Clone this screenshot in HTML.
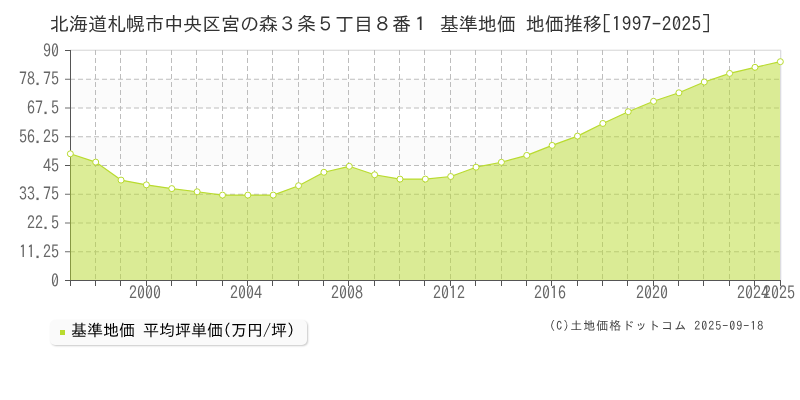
<!DOCTYPE html>
<html lang="ja"><head><meta charset="utf-8"><title>地価推移</title>
<style>
html,body{margin:0;padding:0;background:#fff;}
body{width:800px;height:400px;position:relative;overflow:hidden;font-family:"IPAGothic","Liberation Sans","Noto Sans CJK JP",sans-serif;}
.t{position:absolute;white-space:nowrap;line-height:1;transform:translateZ(0);}
.title{left:50px;top:14px;font-size:19.2px;color:#333;}
.title .f{letter-spacing:-0.2px;}
.title .h{letter-spacing:0.4px;}
.yl{transform:scaleY(1.12) translateZ(0);font-size:16px;color:#666;text-align:right;width:59px;left:0;}
.xl{transform:scaleY(1.12) translateZ(0);font-size:16px;color:#666;top:284px;}
.legend{position:absolute;left:50px;top:320px;width:257px;height:25px;background:#fafafa;border-radius:5px;box-shadow:1px 1px 2px rgba(0,0,0,0.22);}
.sw{position:absolute;left:10px;top:10px;width:5px;height:5px;background:#b9db2f;}
.lt{transform:translateZ(0);position:absolute;left:21px;top:2px;font-size:16px;line-height:1;color:#000;white-space:nowrap;}
.copy{right:35.7px;top:319px;font-size:12px;letter-spacing:1px;color:#444;}
</style></head><body>

<svg width="800" height="400" viewBox="0 0 800 400" style="position:absolute;left:0;top:0">
<rect x="71" y="79.25" width="709" height="28.75" fill="#fbfbfb"/>
<rect x="71" y="136.75" width="709" height="28.75" fill="#fbfbfb"/>
<rect x="71" y="194.25" width="709" height="28.75" fill="#fbfbfb"/>
<rect x="71" y="251.75" width="709" height="28.75" fill="#fbfbfb"/>
<rect x="70" y="49" width="711" height="1" fill="#f3f3f3"/>
<rect x="70" y="50" width="711" height="1" fill="#e0e0e0"/>
<rect x="781" y="50" width="1" height="230" fill="#f4f4f6"/>
<line x1="95.5" y1="50" x2="95.5" y2="280" stroke="#bdbdbd" stroke-width="1" stroke-dasharray="5 3"/>
<line x1="120.5" y1="50" x2="120.5" y2="280" stroke="#bdbdbd" stroke-width="1" stroke-dasharray="5 3"/>
<line x1="146.5" y1="50" x2="146.5" y2="280" stroke="#bdbdbd" stroke-width="1" stroke-dasharray="5 3"/>
<line x1="171.5" y1="50" x2="171.5" y2="280" stroke="#bdbdbd" stroke-width="1" stroke-dasharray="5 3"/>
<line x1="196.5" y1="50" x2="196.5" y2="280" stroke="#bdbdbd" stroke-width="1" stroke-dasharray="5 3"/>
<line x1="222.5" y1="50" x2="222.5" y2="280" stroke="#bdbdbd" stroke-width="1" stroke-dasharray="5 3"/>
<line x1="247.5" y1="50" x2="247.5" y2="280" stroke="#bdbdbd" stroke-width="1" stroke-dasharray="5 3"/>
<line x1="272.5" y1="50" x2="272.5" y2="280" stroke="#bdbdbd" stroke-width="1" stroke-dasharray="5 3"/>
<line x1="298.5" y1="50" x2="298.5" y2="280" stroke="#bdbdbd" stroke-width="1" stroke-dasharray="5 3"/>
<line x1="323.5" y1="50" x2="323.5" y2="280" stroke="#bdbdbd" stroke-width="1" stroke-dasharray="5 3"/>
<line x1="348.5" y1="50" x2="348.5" y2="280" stroke="#bdbdbd" stroke-width="1" stroke-dasharray="5 3"/>
<line x1="374.5" y1="50" x2="374.5" y2="280" stroke="#bdbdbd" stroke-width="1" stroke-dasharray="5 3"/>
<line x1="399.5" y1="50" x2="399.5" y2="280" stroke="#bdbdbd" stroke-width="1" stroke-dasharray="5 3"/>
<line x1="424.5" y1="50" x2="424.5" y2="280" stroke="#bdbdbd" stroke-width="1" stroke-dasharray="5 3"/>
<line x1="450.5" y1="50" x2="450.5" y2="280" stroke="#bdbdbd" stroke-width="1" stroke-dasharray="5 3"/>
<line x1="475.5" y1="50" x2="475.5" y2="280" stroke="#bdbdbd" stroke-width="1" stroke-dasharray="5 3"/>
<line x1="501.5" y1="50" x2="501.5" y2="280" stroke="#bdbdbd" stroke-width="1" stroke-dasharray="5 3"/>
<line x1="526.5" y1="50" x2="526.5" y2="280" stroke="#bdbdbd" stroke-width="1" stroke-dasharray="5 3"/>
<line x1="551.5" y1="50" x2="551.5" y2="280" stroke="#bdbdbd" stroke-width="1" stroke-dasharray="5 3"/>
<line x1="577.5" y1="50" x2="577.5" y2="280" stroke="#bdbdbd" stroke-width="1" stroke-dasharray="5 3"/>
<line x1="602.5" y1="50" x2="602.5" y2="280" stroke="#bdbdbd" stroke-width="1" stroke-dasharray="5 3"/>
<line x1="627.5" y1="50" x2="627.5" y2="280" stroke="#bdbdbd" stroke-width="1" stroke-dasharray="5 3"/>
<line x1="653.5" y1="50" x2="653.5" y2="280" stroke="#bdbdbd" stroke-width="1" stroke-dasharray="5 3"/>
<line x1="678.5" y1="50" x2="678.5" y2="280" stroke="#bdbdbd" stroke-width="1" stroke-dasharray="5 3"/>
<line x1="703.5" y1="50" x2="703.5" y2="280" stroke="#bdbdbd" stroke-width="1" stroke-dasharray="5 3"/>
<line x1="729.5" y1="50" x2="729.5" y2="280" stroke="#bdbdbd" stroke-width="1" stroke-dasharray="5 3"/>
<line x1="754.5" y1="50" x2="754.5" y2="280" stroke="#bdbdbd" stroke-width="1" stroke-dasharray="5 3"/>
<line x1="70" y1="251.75" x2="780" y2="251.75" stroke="#bdbdbd" stroke-width="1" stroke-dasharray="5 3"/>
<line x1="70" y1="223.0" x2="780" y2="223.0" stroke="#bdbdbd" stroke-width="1" stroke-dasharray="5 3"/>
<line x1="70" y1="194.25" x2="780" y2="194.25" stroke="#bdbdbd" stroke-width="1" stroke-dasharray="5 3"/>
<line x1="70" y1="165.5" x2="780" y2="165.5" stroke="#bdbdbd" stroke-width="1" stroke-dasharray="5 3"/>
<line x1="70" y1="136.75" x2="780" y2="136.75" stroke="#bdbdbd" stroke-width="1" stroke-dasharray="5 3"/>
<line x1="70" y1="108.0" x2="780" y2="108.0" stroke="#bdbdbd" stroke-width="1" stroke-dasharray="5 3"/>
<line x1="70" y1="79.25" x2="780" y2="79.25" stroke="#bdbdbd" stroke-width="1" stroke-dasharray="5 3"/>
<rect x="70" y="50" width="1" height="231" fill="#555"/>
<rect x="65" y="280" width="716" height="1" fill="#555"/>
<path d="M70 280 L70 153.80 L70.35 153.80 L95.71 162.10 L121.06 180.10 L146.42 184.85 L171.78 188.60 L197.14 191.75 L222.49 195.10 L247.85 195.10 L273.21 195.10 L298.56 185.70 L323.92 172.25 L349.28 166.30 L374.64 174.75 L399.99 179.10 L425.35 179.10 L450.71 176.50 L476.06 167.20 L501.42 162.25 L526.78 155.40 L552.14 145.40 L577.49 136.10 L602.85 123.45 L628.21 111.70 L653.56 101.30 L678.92 92.80 L704.28 82.00 L729.64 73.40 L754.99 67.30 L780 61.70 L780 280 Z" fill="#b9db2f" fill-opacity="0.5"/>
<path d="M70.35 153.80 L95.71 162.10 L121.06 180.10 L146.42 184.85 L171.78 188.60 L197.14 191.75 L222.49 195.10 L247.85 195.10 L273.21 195.10 L298.56 185.70 L323.92 172.25 L349.28 166.30 L374.64 174.75 L399.99 179.10 L425.35 179.10 L450.71 176.50 L476.06 167.20 L501.42 162.25 L526.78 155.40 L552.14 145.40 L577.49 136.10 L602.85 123.45 L628.21 111.70 L653.56 101.30 L678.92 92.80 L704.28 82.00 L729.64 73.40 L754.99 67.30 L780.35 61.70" fill="none" stroke="#b9db2f" stroke-width="1.2" stroke-linejoin="round"/>
<rect x="780" y="50" width="1" height="230" fill="#dcdce0"/>
<rect x="65" y="251.25" width="5" height="1" fill="#6e6e6e"/>
<rect x="65" y="222.5" width="5" height="1" fill="#6e6e6e"/>
<rect x="65" y="193.75" width="5" height="1" fill="#6e6e6e"/>
<rect x="65" y="165.0" width="5" height="1" fill="#555"/>
<rect x="65" y="136.25" width="5" height="1" fill="#6e6e6e"/>
<rect x="65" y="107.5" width="5" height="1" fill="#6e6e6e"/>
<rect x="65" y="78.75" width="5" height="1" fill="#6e6e6e"/>
<rect x="65" y="50.0" width="5" height="1" fill="#555"/>
<rect x="70" y="280" width="1" height="6" fill="#555"/>
<rect x="95" y="280" width="1" height="6" fill="#555"/>
<rect x="120" y="280" width="1" height="6" fill="#555"/>
<rect x="146" y="280" width="1" height="6" fill="#555"/>
<rect x="171" y="280" width="1" height="6" fill="#555"/>
<rect x="196" y="280" width="1" height="6" fill="#555"/>
<rect x="222" y="280" width="1" height="6" fill="#555"/>
<rect x="247" y="280" width="1" height="6" fill="#555"/>
<rect x="272" y="280" width="1" height="6" fill="#555"/>
<rect x="298" y="280" width="1" height="6" fill="#555"/>
<rect x="323" y="280" width="1" height="6" fill="#555"/>
<rect x="348" y="280" width="1" height="6" fill="#555"/>
<rect x="374" y="280" width="1" height="6" fill="#555"/>
<rect x="399" y="280" width="1" height="6" fill="#555"/>
<rect x="424" y="280" width="1" height="6" fill="#555"/>
<rect x="450" y="280" width="1" height="6" fill="#555"/>
<rect x="475" y="280" width="1" height="6" fill="#555"/>
<rect x="501" y="280" width="1" height="6" fill="#555"/>
<rect x="526" y="280" width="1" height="6" fill="#555"/>
<rect x="551" y="280" width="1" height="6" fill="#555"/>
<rect x="577" y="280" width="1" height="6" fill="#555"/>
<rect x="602" y="280" width="1" height="6" fill="#555"/>
<rect x="627" y="280" width="1" height="6" fill="#555"/>
<rect x="653" y="280" width="1" height="6" fill="#555"/>
<rect x="678" y="280" width="1" height="6" fill="#555"/>
<rect x="703" y="280" width="1" height="6" fill="#555"/>
<rect x="729" y="280" width="1" height="6" fill="#555"/>
<rect x="754" y="280" width="1" height="6" fill="#555"/>
<rect x="780" y="280" width="1" height="6" fill="#555"/>
<circle cx="70.35" cy="153.80" r="3.0" fill="#fff" stroke="#b9db2f" stroke-width="1.0"/>
<circle cx="95.71" cy="162.10" r="3.0" fill="#fff" stroke="#b9db2f" stroke-width="1.0"/>
<circle cx="121.06" cy="180.10" r="3.0" fill="#fff" stroke="#b9db2f" stroke-width="1.0"/>
<circle cx="146.42" cy="184.85" r="3.0" fill="#fff" stroke="#b9db2f" stroke-width="1.0"/>
<circle cx="171.78" cy="188.60" r="3.0" fill="#fff" stroke="#b9db2f" stroke-width="1.0"/>
<circle cx="197.14" cy="191.75" r="3.0" fill="#fff" stroke="#b9db2f" stroke-width="1.0"/>
<circle cx="222.49" cy="195.10" r="3.0" fill="#fff" stroke="#b9db2f" stroke-width="1.0"/>
<circle cx="247.85" cy="195.10" r="3.0" fill="#fff" stroke="#b9db2f" stroke-width="1.0"/>
<circle cx="273.21" cy="195.10" r="3.0" fill="#fff" stroke="#b9db2f" stroke-width="1.0"/>
<circle cx="298.56" cy="185.70" r="3.0" fill="#fff" stroke="#b9db2f" stroke-width="1.0"/>
<circle cx="323.92" cy="172.25" r="3.0" fill="#fff" stroke="#b9db2f" stroke-width="1.0"/>
<circle cx="349.28" cy="166.30" r="3.0" fill="#fff" stroke="#b9db2f" stroke-width="1.0"/>
<circle cx="374.64" cy="174.75" r="3.0" fill="#fff" stroke="#b9db2f" stroke-width="1.0"/>
<circle cx="399.99" cy="179.10" r="3.0" fill="#fff" stroke="#b9db2f" stroke-width="1.0"/>
<circle cx="425.35" cy="179.10" r="3.0" fill="#fff" stroke="#b9db2f" stroke-width="1.0"/>
<circle cx="450.71" cy="176.50" r="3.0" fill="#fff" stroke="#b9db2f" stroke-width="1.0"/>
<circle cx="476.06" cy="167.20" r="3.0" fill="#fff" stroke="#b9db2f" stroke-width="1.0"/>
<circle cx="501.42" cy="162.25" r="3.0" fill="#fff" stroke="#b9db2f" stroke-width="1.0"/>
<circle cx="526.78" cy="155.40" r="3.0" fill="#fff" stroke="#b9db2f" stroke-width="1.0"/>
<circle cx="552.14" cy="145.40" r="3.0" fill="#fff" stroke="#b9db2f" stroke-width="1.0"/>
<circle cx="577.49" cy="136.10" r="3.0" fill="#fff" stroke="#b9db2f" stroke-width="1.0"/>
<circle cx="602.85" cy="123.45" r="3.0" fill="#fff" stroke="#b9db2f" stroke-width="1.0"/>
<circle cx="628.21" cy="111.70" r="3.0" fill="#fff" stroke="#b9db2f" stroke-width="1.0"/>
<circle cx="653.56" cy="101.30" r="3.0" fill="#fff" stroke="#b9db2f" stroke-width="1.0"/>
<circle cx="678.92" cy="92.80" r="3.0" fill="#fff" stroke="#b9db2f" stroke-width="1.0"/>
<circle cx="704.28" cy="82.00" r="3.0" fill="#fff" stroke="#b9db2f" stroke-width="1.0"/>
<circle cx="729.64" cy="73.40" r="3.0" fill="#fff" stroke="#b9db2f" stroke-width="1.0"/>
<circle cx="754.99" cy="67.30" r="3.0" fill="#fff" stroke="#b9db2f" stroke-width="1.0"/>
<circle cx="780.35" cy="61.70" r="3.0" fill="#fff" stroke="#b9db2f" stroke-width="1.0"/>
</svg>
<div class="t title"><span class="f">北海道札幌市中央区宮の森３条５丁目８番１</span><span class="h"> </span><span class="f">基準地価</span><span class="h"> </span><span class="f">地価推移</span><span class="h">[1997-2025]</span></div>
<div class="t yl" style="top:42px">90</div>
<div class="t yl" style="top:70px">78.75</div>
<div class="t yl" style="top:99px">67.5</div>
<div class="t yl" style="top:128px">56.25</div>
<div class="t yl" style="top:157px">45</div>
<div class="t yl" style="top:185px">33.75</div>
<div class="t yl" style="top:214px">22.5</div>
<div class="t yl" style="top:243px">11.25</div>
<div class="t yl" style="top:272px">0</div>
<div class="t xl" style="left:129px">2000</div>
<div class="t xl" style="left:230px">2004</div>
<div class="t xl" style="left:331px">2008</div>
<div class="t xl" style="left:433px">2012</div>
<div class="t xl" style="left:534px">2016</div>
<div class="t xl" style="left:636px">2020</div>
<div class="t xl" style="left:737px">2024</div>
<div class="t xl" style="left:763px">2025</div>
<div class="legend"><div class="sw"></div><div class="lt">基準地価 平均坪単価(万円/坪)</div></div>
<div class="t copy">(C)土地価格ドットコム 2025-09-18</div>
</body></html>
